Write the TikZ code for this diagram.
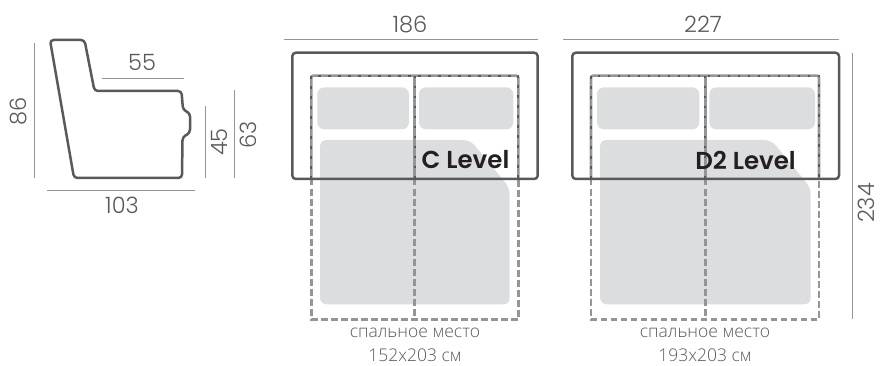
\documentclass[tikz,border=0pt]{standalone}
\usepackage{fontspec}
\setmainfont{Poppins Light}
\newfontfamily\cyr{Open Sans Light}
\newfontfamily\bfnt{Poppins SemiBold}
\definecolor{sofa}{HTML}{58595B}
\definecolor{dimc}{HTML}{939598}
\definecolor{seat}{HTML}{DCDDDE}
\definecolor{txt}{HTML}{58595B}
\definecolor{lab}{HTML}{231F20}
\tikzset{
  outl/.style={draw=sofa,line width=2.5pt,rounded corners=3.5pt,line join=round},
  dimline/.style={draw=dimc,line width=0.9pt},
  dashln/.style={draw=dimc,line width=2.6pt,dash pattern=on 6.5pt off 3.5pt},
  solidln/.style={draw=dimc,line width=2.6pt},
  dotln/.style={draw=sofa,line width=2.2pt,dash pattern=on 2.5pt off 7.5pt},
  cushion/.style={fill=seat,rounded corners=7pt},
  num/.style={text=txt,font=\fontsize{22.5}{24}\selectfont,inner sep=0pt},
  capt/.style={text=txt,font=\cyr\fontsize{17.5}{19}\selectfont,inner sep=0pt},
  lvl/.style={text=lab,font=\bfnt\fontsize{24.5}{26}\selectfont,inner sep=0pt}
}
\begin{document}
\begin{tikzpicture}[x=1pt,y=-1pt]
\useasboundingbox (0,0) rectangle (880,366);
% side view
\draw[outl] (50,40) -- (84.5,40) -- (94.5,91) -- (181.5,91) -- (183,110) -- (190,113) -- (190,133) -- (182.5,137) -- (182,178) -- (74,178) -- cycle;
\draw[dimline] (34,43) -- (34,178);
\draw[dimline] (101.5,78) -- (184,78);
\draw[dimline] (47,190.7) -- (195,190.7);
\draw[dimline] (205,106) -- (205,178);
\draw[dimline] (234,90) -- (234,178);
\node[num,rotate=90] (n86) at (19,111.5) {86};
\node[num] (n55) at (142,62) {55};
\node[num] (n103) at (122,205) {103};
\node[num,rotate=90] (n45) at (219,142) {45};
\node[num,rotate=90] (n63) at (248,134.5) {63};
% C level
\fill[cushion] (317.3,87.3) rectangle (409,129.3);
\fill[cushion] (419,87.3) rectangle (513.3,129.3);
\fill[seat] (327,140) -- (462,140) .. controls (468,140) and (472,142) .. (476,147) -- (504,181) .. controls (508,186) and (509.7,190) .. (509.7,196) -- (509.7,297) .. controls (509.7,302) and (507,304.3) .. (503,304.3) -- (327,304.3) .. controls (323,304.3) and (320,302) .. (320,297) -- (320,147) .. controls (320,142) and (323,140) .. (327,140) -- cycle;
\draw[dashln] (311.3,179) -- (311.3,319.3) -- (518.3,319.3) -- (518.3,179);
\draw[dashln] (414.7,179) -- (414.7,319.3);
\draw[solidln,rounded corners=2pt] (311.3,179) -- (311.3,75.7) -- (518.3,75.7) -- (518.3,179);
\draw[solidln] (414.7,75.7) -- (414.7,179);
\draw[dotln] (311.3,179) -- (311.3,75.7) -- (518.3,75.7) -- (518.3,179);
\draw[dotln] (414.7,75.7) -- (414.7,179);
\draw[outl] (292.3,52.7) rectangle (537.7,179);
\draw[dimline] (284,39) -- (537.5,39);
\node[num] (n186) at (410,24.5) {186};
\node[lvl] (cl) at (465.5,160) {C Level};
\node[capt] (c1) at (415,333.3) {спальное место};
\node[capt] (c2) at (415,355.7) {152x203 см};
% D2 level
\fill[cushion] (597,87.3) rectangle (699.3,129.3);
\fill[cushion] (709.3,87.3) rectangle (815,129.3);
\fill[seat] (607,140) -- (763,140) .. controls (769,140) and (773,142) .. (777,147) -- (805,181) .. controls (809,186) and (810.7,190) .. (810.7,196) -- (810.7,297) .. controls (810.7,302) and (808,304.3) .. (804,304.3) -- (607,304.3) .. controls (603,304.3) and (600,302) .. (600,297) -- (600,147) .. controls (600,142) and (603,140) .. (607,140) -- cycle;
\draw[dashln] (591,179) -- (591,319.3) -- (819,319.3) -- (819,179);
\draw[dashln] (705.3,179) -- (705.3,319.3);
\draw[solidln,rounded corners=2pt] (591,179) -- (591,75.7) -- (819,75.7) -- (819,179);
\draw[solidln] (705.3,75.7) -- (705.3,179);
\draw[dotln] (591,179) -- (591,75.7) -- (819,75.7) -- (819,179);
\draw[dotln] (705.3,75.7) -- (705.3,179);
\draw[outl] (572.3,52.7) rectangle (839,179);
\draw[dimline] (563.3,39) -- (838.7,39);
\draw[dimline] (852.7,52.7) -- (852.7,319.3);
\node[num] (n227) at (703,24.5) {227};
\node[num,rotate=90] (n234) at (866,203) {234};
\node[lvl] (dl) at (745.5,160) {D2 Level};
\node[capt] (d1) at (705,333.3) {спальное место};
\node[capt] (d2) at (705,355.7) {193x203 см};
\end{tikzpicture}
\end{document}
